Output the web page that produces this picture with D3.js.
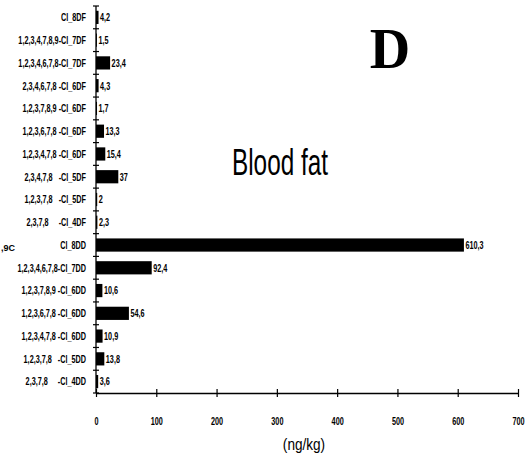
<!DOCTYPE html>
<html>
<head>
<meta charset="utf-8">
<script src="https://cdn.jsdelivr.net/npm/d3@7"></script>
<style>
body { margin: 0; background: #fff; }
svg { display: block; }
.narrow { font-family: "Liberation Sans Narrow", "Arial Narrow", "Liberation Sans", sans-serif; fill: #000; }
</style>
</head>
<body>
<svg width="528" height="456"></svg>
<script>
// congeners, top to bottom
var congeners = [
	"Cl_8DF",
	"1,2,3,4,7,8,9-Cl_7DF",
	"1,2,3,4,6,7,8-Cl_7DF",
	"2,3,4,6,7,8 -Cl_6DF",
	"1,2,3,7,8,9 -Cl_6DF",
	"1,2,3,6,7,8 -Cl_6DF",
	"1,2,3,4,7,8 -Cl_6DF",
	"2,3,4,7,8   -Cl_5DF",
	"1,2,3,7,8   -Cl_5DF",
	"2,3,7,8     -Cl_4DF",
	"Cl_8DD",
	"1,2,3,4,6,7,8-Cl_7DD",
	"1,2,3,7,8,9 -Cl_6DD",
	"1,2,3,6,7,8 -Cl_6DD",
	"1,2,3,4,7,8 -Cl_6DD",
	"1,2,3,7,8   -Cl_5DD",
	"2,3,7,8     -Cl_4DD"
];
// concentrations (ng/kg)
var values = [4.2, 1.5, 23.4, 4.3, 1.7, 13.3, 15.4, 37, 2, 2.3, 610.3, 92.4, 10.6, 54.6, 10.9, 13.8, 3.6];
var xticks = [0, 100, 200, 300, 400, 500, 600, 700];

var svg = d3.select("svg");
var mLeft = 96, mRight = 518, mTop = 6, mBottom = 393;
var squeeze = 0.66; //condensed look

var data = congeners.map(function(c, i) { return {name: c, v: values[i]}; });

var x = d3.scaleLinear().domain([0, 700]).range([mLeft, mRight]);
var y = d3.scaleBand().domain(congeners).range([mTop, mBottom]).paddingInner(0.42).paddingOuter(0.21);

var fmt = function(v) { return String(v).replace(".", ","); };

//bars
svg.selectAll(".bar")
	.data(data)
	.enter().append("rect")
	.attr("class", "bar")
	.attr("x", x(0))
	.attr("y", function(d) { return y(d.name); })
	.attr("width", function(d) { return x(d.v) - x(0); })
	.attr("height", y.bandwidth())
	.attr("fill", "#000");

//value labels
svg.selectAll(".val")
	.data(data)
	.enter().append("text")
	.attr("class", "val narrow")
	.attr("transform", function(d) {
		return "translate(" + (x(d.v) + 1.5) + "," + (y(d.name) + y.bandwidth() / 2) + ") scale(" + squeeze + ",1)";
	})
	.attr("dy", "0.35em")
	.attr("font-size", 11)
	.attr("font-weight", "bold")
	.text(function(d) { return fmt(d.v); });

//y axis line and ticks between rows
var step = y.step();
svg.append("line")
	.attr("x1", mLeft).attr("x2", mLeft)
	.attr("y1", mTop).attr("y2", mBottom)
	.attr("stroke", "#000").attr("stroke-width", 1.3);
var ybounds = d3.range(congeners.length + 1).map(function(i) { return mTop + i * step; });
svg.selectAll(".ytick")
	.data(ybounds)
	.enter().append("line")
	.attr("x1", mLeft - 3).attr("x2", mLeft + 3)
	.attr("y1", function(d) { return d; }).attr("y2", function(d) { return d; })
	.attr("stroke", "#000").attr("stroke-width", 1.2);

//category labels
svg.selectAll(".cat")
	.data(congeners)
	.enter().append("text")
	.attr("class", "cat narrow")
	.attr("transform", function(d) {
		return "translate(86," + (y(d) + y.bandwidth() / 2) + ") scale(" + squeeze + ",1)";
	})
	.attr("dy", "0.35em")
	.attr("text-anchor", "end")
	.attr("font-size", 11)
	.attr("font-weight", "bold")
	.style("white-space", "pre")
	.text(function(d) { return d; });

//x axis
var gx = svg.append("g")
	.attr("transform", "translate(0," + mBottom + ")")
	.call(d3.axisBottom(x).tickValues(xticks).tickSize(4).tickSizeOuter(0).tickPadding(20));
gx.select(".domain").attr("stroke-width", 1.3);
gx.selectAll(".tick line").attr("y1", -4).attr("stroke-width", 1.2);
gx.selectAll(".tick text")
	.attr("class", "narrow")
	.attr("font-size", 11)
	.attr("font-weight", "bold")
	.attr("fill", "#000")
	.attr("transform", "scale(" + squeeze + ",1)");

//labels
svg.append("text")
	.attr("class", "narrow")
	.attr("text-anchor", "middle")
	.attr("transform", "translate(304,450) scale(0.8,1)")
	.attr("font-size", 17)
	.text("(ng/kg)");

svg.append("text")
	.attr("x", 390)
	.attr("y", 68)
	.attr("text-anchor", "middle")
	.attr("font-family", "Liberation Serif, DejaVu Serif, serif")
	.attr("font-weight", "bold")
	.attr("font-size", 56)
	.text("D");

svg.append("text")
	.attr("class", "narrow")
	.attr("x", 232)
	.attr("y", 175)
	.attr("font-size", 37)
	.attr("textLength", 96)
	.attr("lengthAdjust", "spacingAndGlyphs")
	.text("Blood fat");

svg.append("text")
	.attr("class", "narrow")
	.attr("x", 1)
	.attr("y", 251)
	.attr("font-size", 9)
	.attr("font-weight", "bold")
	.text(",9C");
</script>
</body>
</html>
